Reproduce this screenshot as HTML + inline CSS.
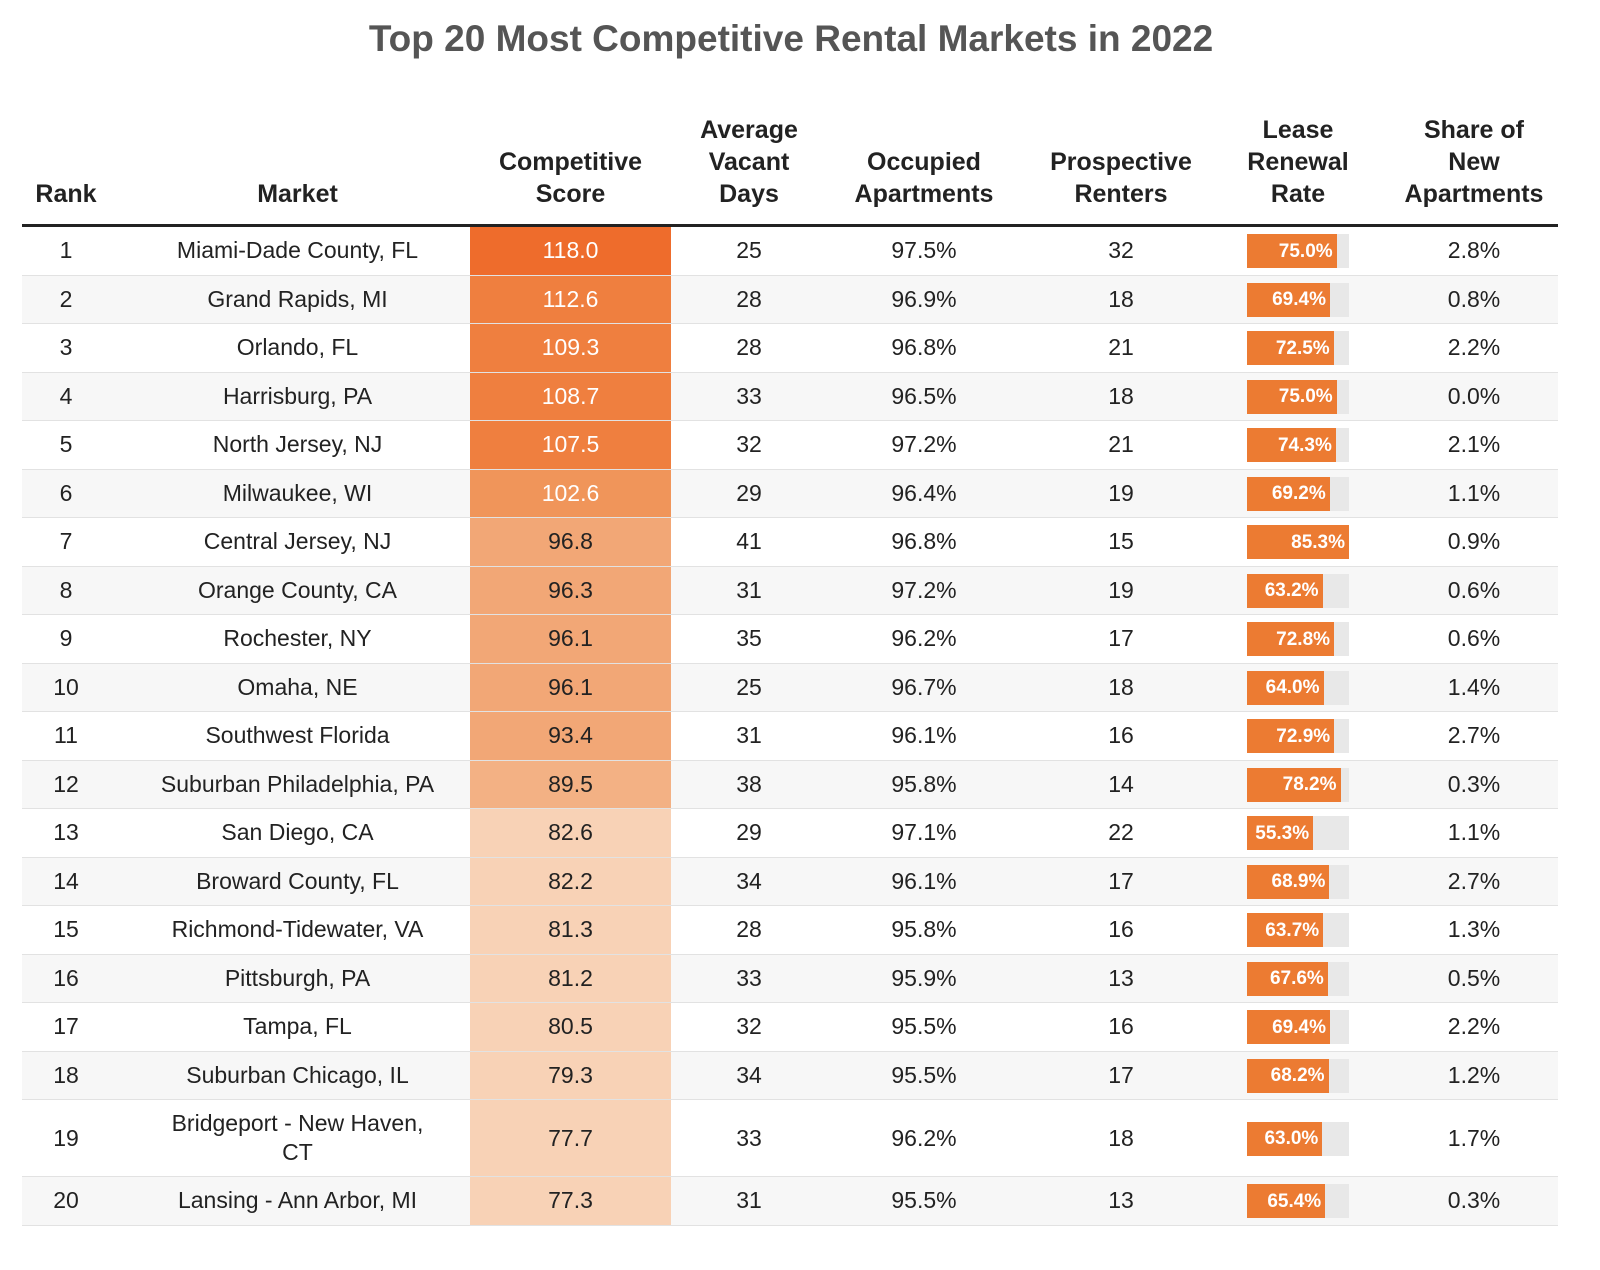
<!DOCTYPE html>
<html><head><meta charset="utf-8"><style>
body{margin:0;background:#fff;width:1600px;height:1270px;overflow:hidden;font-family:"Liberation Sans",Roboto,sans-serif;color:#222}
#title{position:absolute;left:0;width:1582px;top:18px;text-align:center;font-size:37px;font-weight:bold;color:#555}
#tbl{position:absolute;left:22px;top:100px;width:1536px}
.hd{position:absolute;top:0;height:124px;display:flex;align-items:flex-end;justify-content:center;text-align:center;font-weight:bold;font-size:25px;line-height:32px;padding-bottom:14px;box-sizing:border-box}
#hline{position:absolute;left:0;top:124px;width:1536px;height:3px;background:#222}
.row{position:absolute;left:0;width:1536px;border-bottom:1px solid #e2e2e2;box-sizing:border-box}
.c{position:absolute;top:0;height:100%;display:flex;align-items:center;justify-content:center;text-align:center;font-size:23px;line-height:29px}
.bar{position:absolute;height:34px;background:#e8e8e8}
.barf{position:absolute;left:0;top:0;height:100%;background:#ec7b32;color:#fff;font-weight:bold;font-size:19px;display:flex;align-items:center;justify-content:flex-end;padding-right:4px;box-sizing:border-box}
</style></head><body>
<div id="title">Top 20 Most Competitive Rental Markets in 2022</div>
<div id="tbl">
<div id="hline"></div>
</div>
<script>
const ranks=[1,2,3,4,5,6,7,8,9,10,11,12,13,14,15,16,17,18,19,20];
const markets=["Miami-Dade County, FL","Grand Rapids, MI","Orlando, FL","Harrisburg, PA","North Jersey, NJ","Milwaukee, WI","Central Jersey, NJ","Orange County, CA","Rochester, NY","Omaha, NE","Southwest Florida","Suburban Philadelphia, PA","San Diego, CA","Broward County, FL","Richmond-Tidewater, VA","Pittsburgh, PA","Tampa, FL","Suburban Chicago, IL","Bridgeport - New Haven, CT","Lansing - Ann Arbor, MI"];
const scores=[118.0,112.6,109.3,108.7,107.5,102.6,96.8,96.3,96.1,96.1,93.4,89.5,82.6,82.2,81.3,81.2,80.5,79.3,77.7,77.3];
const vacantDays=[25,28,28,33,32,29,41,31,35,25,31,38,29,34,28,33,32,34,33,31];
const occupied=[97.5,96.9,96.8,96.5,97.2,96.4,96.8,97.2,96.2,96.7,96.1,95.8,97.1,96.1,95.8,95.9,95.5,95.5,96.2,95.5];
const prospective=[32,18,21,18,21,19,15,19,17,18,16,14,22,17,16,13,16,17,18,13];
const renewal=[75.0,69.4,72.5,75.0,74.3,69.2,85.3,63.2,72.8,64.0,72.9,78.2,55.3,68.9,63.7,67.6,69.4,68.2,63.0,65.4];
const newShare=[2.8,0.8,2.2,0.0,2.1,1.1,0.9,0.6,0.6,1.4,2.7,0.3,1.1,2.7,1.3,0.5,2.2,1.2,1.7,0.3];
const headers=["Rank","Market","Competitive<br>Score","Average<br>Vacant<br>Days","Occupied<br>Apartments","Prospective<br>Renters","Lease<br>Renewal<br>Rate","Share of<br>New<br>Apartments"];
const cols=[[0,88],[103,345],[448,201],[649,156],[805,194],[999,200],[1199,154],[1368,168]];
const colNames=['rank','market','competitive-score','vacant-days','occupied-apartments','prospective-renters','lease-renewal-rate','share-new-apartments'];
const tbl=document.getElementById('tbl');
headers.forEach((h,i)=>{const d=document.createElement('div');d.className='hd';d.style.left=cols[i][0]+'px';d.style.width=cols[i][1]+'px';d.innerHTML=h;


tbl.appendChild(d);});
function scoreColor(v){if(v>=115)return'#ee6c2c';if(v>=105)return'#ef7f3f';if(v>=100)return'#f0955a';if(v>=90)return'#f2a776';if(v>=85)return'#f3b184';return'#f8d2b6';}
const maxR=Math.max(...renewal);
let y=127;
ranks.forEach((r,i)=>{const h=(i===18)?77:48.5;
const row=document.createElement('div');row.className='row';row.style.top=y+'px';row.style.height=h+'px';
row.style.background=(i%2===1)?'#f7f7f7':'#fff';


const vals=[r,markets[i],scores[i].toFixed(1),vacantDays[i],occupied[i].toFixed(1)+'%',prospective[i],'',newShare[i].toFixed(1)+'%'];
vals.forEach((v,j)=>{const c=document.createElement('div');c.className='c';c.style.left=cols[j][0]+'px';c.style.width=cols[j][1]+'px';
if(j===1){c.style.padding='0 30px';c.style.boxSizing='border-box';}
if(j===2){c.style.background=scoreColor(scores[i]);if(scores[i]>=100)c.style.color='#fff';}


if(j===6){const b=document.createElement('div');b.className='bar';b.style.left='26px';b.style.width='102px';b.style.top=(h/2-17)+'px';


const f=document.createElement('div');f.className='barf';f.style.width=(renewal[i]/maxR*102)+'px';f.textContent=renewal[i].toFixed(1)+'%';


b.appendChild(f);c.appendChild(b);}else c.textContent=v;
row.appendChild(c);});
tbl.appendChild(row);y+=h;});
</script>
</body></html>
